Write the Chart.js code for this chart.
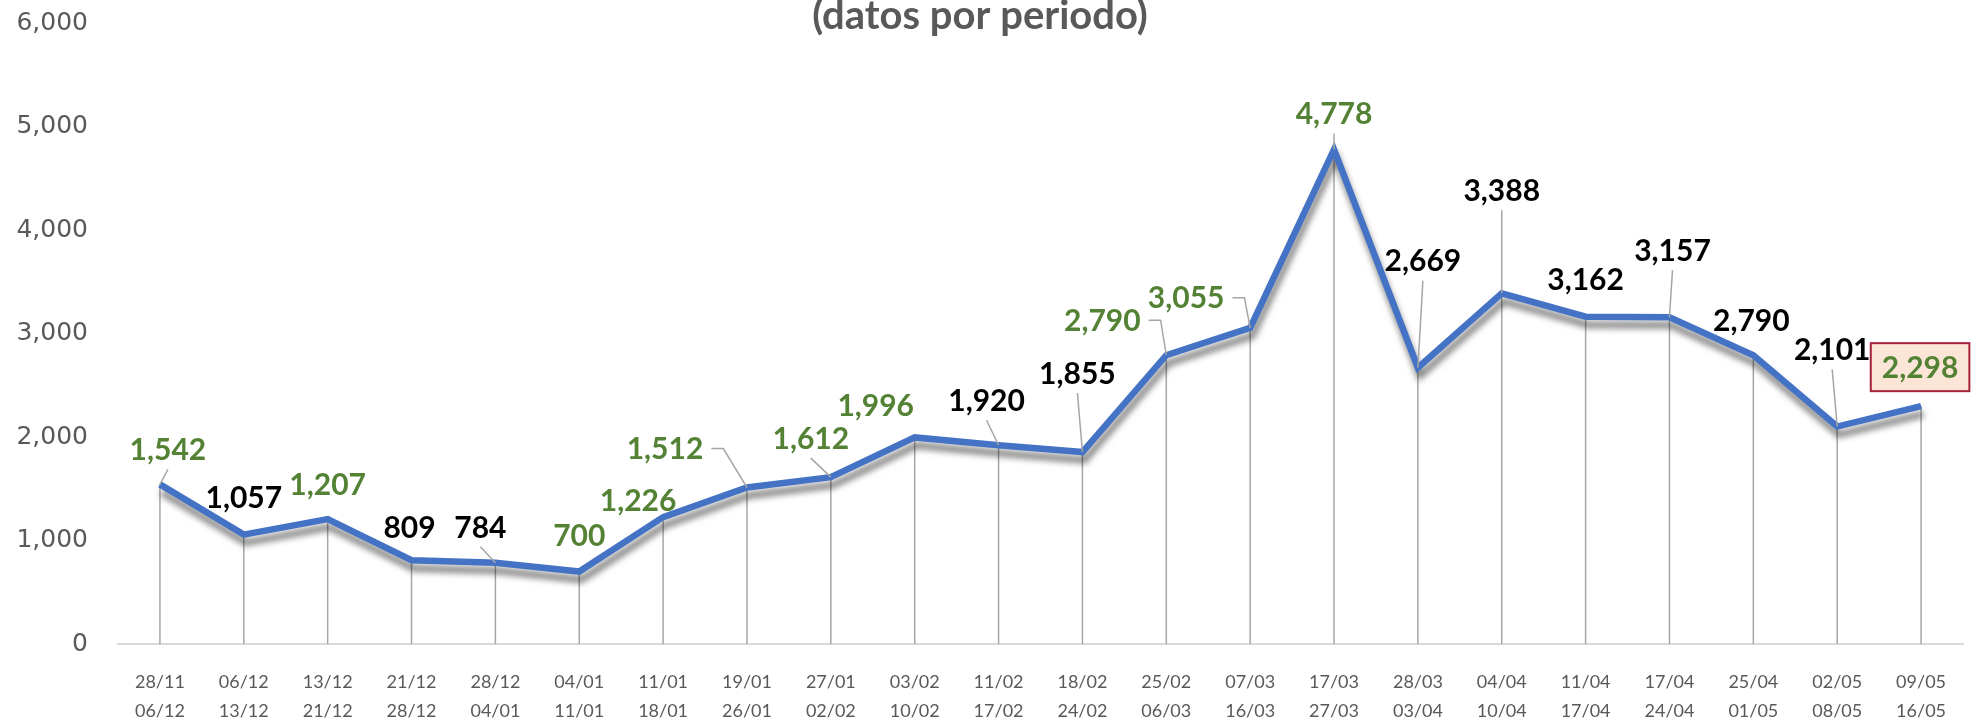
<!DOCTYPE html>
<html>
<head>
<meta charset="utf-8">
<script src="https://cdn.jsdelivr.net/npm/chart.js@4.4.1/dist/chart.umd.min.js"></script>
<style>
    html, body { margin: 0; padding: 0; background: #fff; }
    #wrap { width: 1973px; height: 724px; position: relative; }
</style>
</head>
<body>
<div id="wrap"><canvas id="periodChart"></canvas></div>
<script>
// Periods (start / end of each week) and values
const periodStart = ['28/11', '06/12', '13/12', '21/12', '28/12', '04/01', '11/01', '19/01', '27/01', '03/02', '11/02',
                     '18/02', '25/02', '07/03', '17/03', '28/03', '04/04', '11/04', '17/04', '25/04', '02/05', '09/05'];
const periodEnd = ['06/12', '13/12', '21/12', '28/12', '04/01', '11/01', '18/01', '26/01', '02/02', '10/02', '17/02',
                   '24/02', '06/03', '16/03', '27/03', '03/04', '10/04', '17/04', '24/04', '01/05', '08/05', '16/05'];
const values = [1542, 1057, 1207, 809, 784, 700, 1226, 1512, 1612, 1996, 1920,
                1855, 2790, 3055, 4778, 2669, 3388, 3162, 3157, 2790, 2101, 2298];
const yTicks = [0, 1000, 2000, 3000, 4000, 5000, 6000];
const titleText = '(datos por periodo)';

// Label styling: which labels are green, and where each label sits relative to its point
const greenLabels = [0, 2, 5, 6, 7, 8, 9, 12, 13, 14, 21];
const boxedLabel = 21;
const labelPlacement = [
    [8, -35, 'down'], [0, -37, ''], [0, -35, ''], [-2, -33, ''], [-15, -36, 'down'], [0, -36, ''],
    [-25, -17, ''], [-82, -39, 'side'], [-20, -39, 'down'], [-39, -32, ''], [-12, -45, 'down'],
    [-5, -79, 'down'], [-64, -35, 'side'], [-64, -30, 'side'], [0, -36, 'down'], [5, -107, 'down'],
    [0, -103, 'down'], [0, -37, ''], [3, -67, 'down'], [-2, -35, ''], [-5, -77, 'down'], [-1, -39, '']
];

const textFont = "Lato, 'Open Sans', sans-serif";
const gray = '#595959';

// Gray drop lines from each point down to the axis, drawn behind the line
const dropLines = {
    id: 'dropLines',
    beforeDatasetsDraw(chart) {
        const ctx = chart.ctx;
        const meta = chart.getDatasetMeta(0);
        const bottom = chart.scales.y.getPixelForValue(0);
        ctx.save();
        ctx.strokeStyle = '#A6A6A6';
        ctx.lineWidth = 1.5;
        meta.data.forEach(pt => {
            ctx.beginPath();
            ctx.moveTo(pt.x, pt.y);
            ctx.lineTo(pt.x, bottom);
            ctx.stroke();
        });
        ctx.restore();
    }
};

// Soft shadow under the line
const lineShadow = {
    id: 'lineShadow',
    beforeDatasetDraw(chart) {
        const ctx = chart.ctx;
        ctx.save();
        ctx.shadowColor = 'rgba(0, 0, 0, 0.5)';
        ctx.shadowBlur = 6;
        ctx.shadowOffsetX = 2;
        ctx.shadowOffsetY = 8;
    },
    afterDatasetDraw(chart) {
        chart.ctx.restore();
    }
};

// Data labels with leader lines, plus the title
const valueLabels = {
    id: 'valueLabels',
    afterDatasetsDraw(chart) {
        const ctx = chart.ctx;
        const meta = chart.getDatasetMeta(0);
        ctx.save();
        ctx.font = 'bold 30px ' + textFont;
        ctx.textAlign = 'center';
        ctx.textBaseline = 'middle';

        meta.data.forEach((pt, i) => {
            const [dx, dy, leader] = labelPlacement[i];
            const text = values[i].toLocaleString('en-US');
            const lx = pt.x + dx;
            const ly = pt.y + dy;
            const w = ctx.measureText(text).width;

            ctx.strokeStyle = '#A6A6A6';
            ctx.lineWidth = 1.5;
            if (leader === 'down') {
                ctx.beginPath();
                ctx.moveTo(lx, ly + 20);
                ctx.lineTo(pt.x, pt.y);
                ctx.stroke();
            } else if (leader === 'side') {
                const sx = lx + w / 2 + 8;
                ctx.beginPath();
                ctx.moveTo(sx, ly);
                ctx.lineTo(sx + 12, ly);
                ctx.lineTo(pt.x, pt.y);
                ctx.stroke();
            }

            if (i === boxedLabel) {
                ctx.fillStyle = '#FBE5D6';
                ctx.fillRect(lx - w / 2 - 11, ly - 24, w + 22, 48);
                ctx.strokeStyle = '#A5203A';
                ctx.lineWidth = 2;
                ctx.strokeRect(lx - w / 2 - 11, ly - 24, w + 22, 48);
            }

            ctx.fillStyle = greenLabels.includes(i) ? '#548235' : '#000000';
            ctx.fillText(text, lx, ly + 1);
        });
        ctx.restore();
    },
    afterDraw(chart) {
        const ctx = chart.ctx;
        ctx.save();
        ctx.font = 'bold 40px ' + textFont;
        ctx.fillStyle = gray;
        ctx.textAlign = 'center';
        ctx.textBaseline = 'alphabetic';
        ctx.fillText(titleText, 980, 29);
        ctx.restore();
    }
};

const ctx = document.getElementById('periodChart').getContext('2d');
new Chart(ctx, {
    type: 'line',
    data: {
        labels: periodStart.map((s, i) => [s, periodEnd[i]]),
        datasets: [{
            data: values,
            borderColor: '#4472C4',
            borderWidth: 6.5,
            borderJoinStyle: 'miter',
            tension: 0,
            pointRadius: 0,
            fill: false
        }]
    },
    options: {
        responsive: true,
        maintainAspectRatio: false,
        animation: false,
        layout: {
            padding: { top: 23, right: 10, left: 0, bottom: 0 }
        },
        plugins: {
            legend: { display: false },
            tooltip: { enabled: false }
        },
        scales: {
            x: {
                offset: true,
                grid: { display: false, drawTicks: false },
                border: { display: true, color: '#D9D9D9', width: 2 },
                ticks: {
                    color: gray,
                    autoSkip: false,
                    maxRotation: 0,
                    padding: 24,
                    font: { family: textFont, size: 18, lineHeight: 1.6 }
                },
                afterFit(scale) { scale.height = 80; }
            },
            y: {
                min: 0,
                max: 6000,
                grid: { display: false, drawTicks: false },
                border: { display: false },
                afterBuildTicks(scale) {
                    scale.ticks = yTicks.map(v => ({ value: v }));
                },
                ticks: {
                    color: gray,
                    padding: 30,
                    font: { family: "'DejaVu Sans', Verdana, sans-serif", size: 25 },
                    callback: v => v.toLocaleString('en-US')
                },
                afterFit(scale) {
                    scale.width = 118;
                    // tick padding would otherwise push the plot area down
                    scale.paddingTop = 0;
                    scale.paddingBottom = 0;
                }
            }
        }
    },
    plugins: [dropLines, lineShadow, valueLabels]
});
</script>
</body>
</html>
